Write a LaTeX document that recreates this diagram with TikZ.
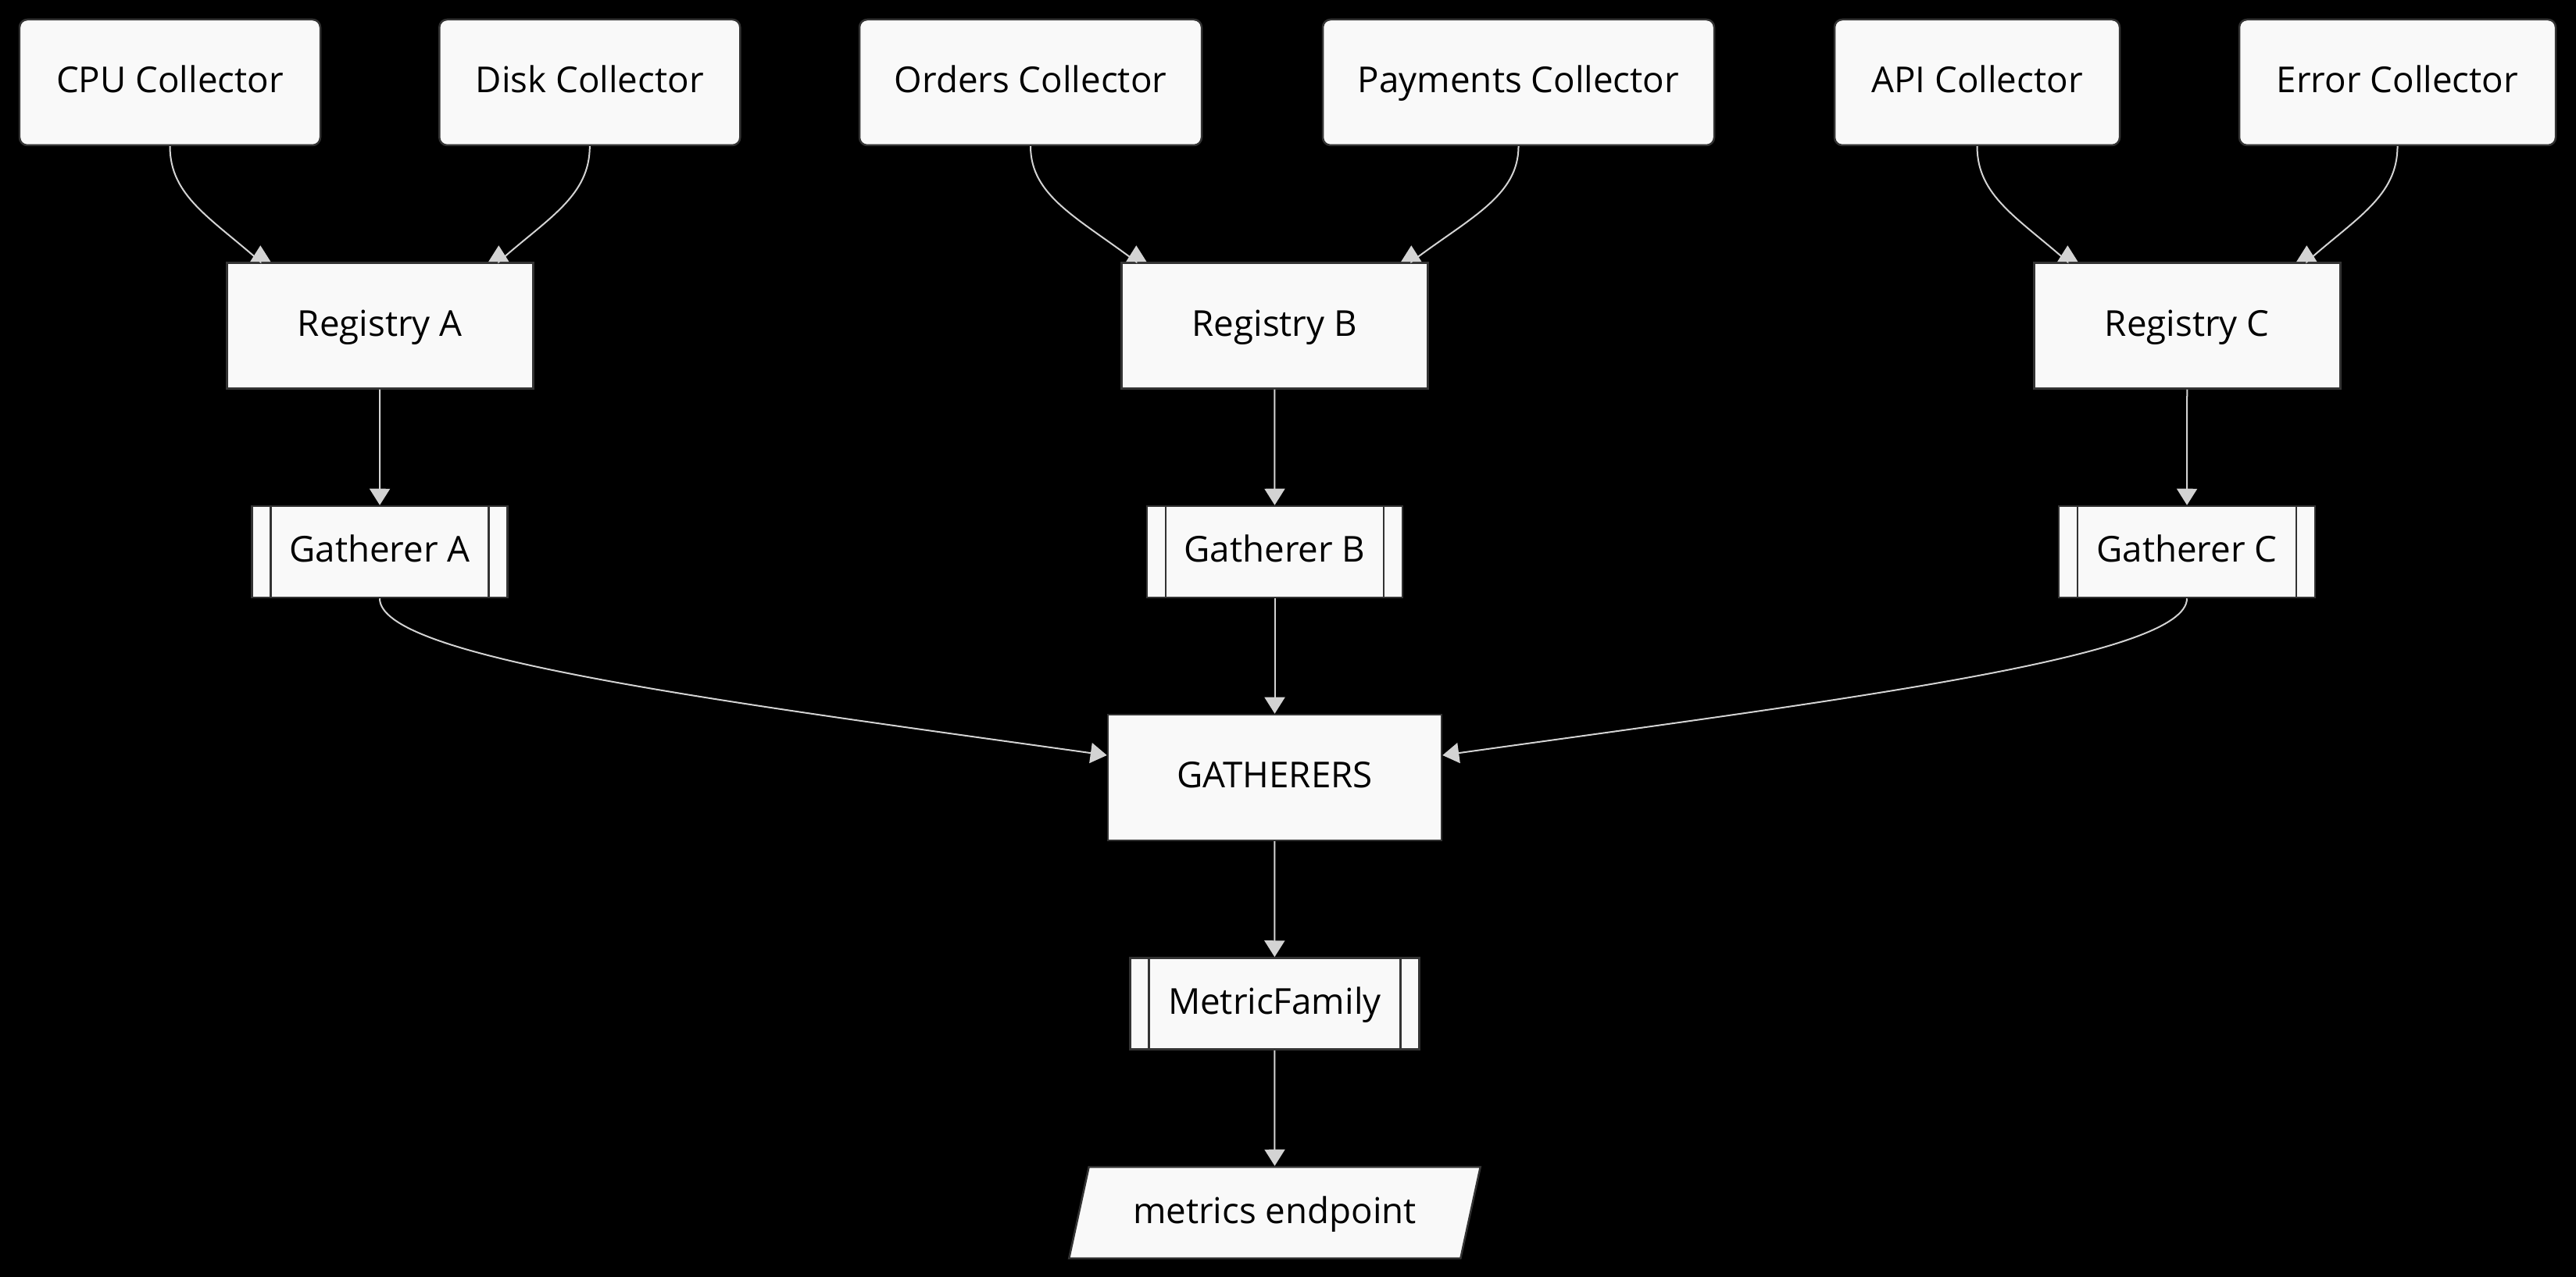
\documentclass[tikz,border=0pt]{standalone}
\usepackage{fontspec}
\setmainfont{Open Sans}
\usetikzlibrary{arrows.meta,shapes.geometric}

\definecolor{nodefill}{HTML}{F9F9F9}
\definecolor{nodeline}{HTML}{333333}
\definecolor{flowline}{HTML}{D3D3D3}

\tikzset{
  block/.style={draw=nodeline, fill=nodefill, line width=0.025cm, inner sep=0pt,
    minimum height=1.61cm, text height=0.33cm, text depth=0.06cm,
    font=\fontsize{13}{15}\selectfont, text=black},
  collector/.style={block, rounded corners=0.1cm},
  registry/.style={block, minimum width=3.92cm},
  subr/.style={block, minimum height=1.17cm, path picture={
      \draw[nodeline, line width=0.025cm]
        ([xshift=0.24cm]path picture bounding box.north west) -- ([xshift=0.24cm]path picture bounding box.south west)
        ([xshift=-0.24cm]path picture bounding box.north east) -- ([xshift=-0.24cm]path picture bounding box.south east);}},
  flow/.style={draw=flowline, line width=0.02cm, -{Triangle[length=0.21cm, width=0.26cm]}},
}

\begin{document}
\begin{tikzpicture}
	\fill[black, use as bounding box] (0, 0) rectangle (32.97, -16.35);

	% collectors
	\node[collector, minimum width=3.85cm] (cpu) at (2.175, -1.055) {CPU Collector};
	\node[collector, minimum width=3.85cm] (disk) at (7.548, -1.055) {Disk Collector};
	\node[collector, minimum width=4.38cm] (orders) at (13.19, -1.055) {Orders Collector};
	\node[collector, minimum width=5.01cm] (payments) at (19.435, -1.055) {Payments Collector};
	\node[collector, minimum width=3.65cm] (api) at (25.305, -1.055) {API Collector};
	\node[collector, minimum width=4.05cm] (error) at (30.685, -1.055) {Error Collector};

	% registries and gatherers
	\node[registry] (rega) at (4.863, -4.17) {Registry A};
	\node[registry] (regb) at (16.313, -4.17) {Registry B};
	\node[registry] (regc) at (27.993, -4.17) {Registry C};
	\node[subr, minimum width=3.27cm] (gatha) at (4.86, -7.065) {Gatherer A};
	\node[subr, minimum width=3.27cm] (gathb) at (16.315, -7.065) {Gatherer B};
	\node[subr, minimum width=3.28cm] (gathc) at (27.99, -7.065) {Gatherer C};

	\node[block, minimum width=4.27cm] (gathers) at (16.315, -9.955) {GATHERERS};
	\node[subr, minimum width=3.70cm] (mfam) at (16.313, -12.85) {MetricFamily};
	\node[block, trapezium, trapezium left angle=63.6, trapezium right angle=116.4,
		trapezium stretches=true, minimum width=5.27cm, minimum height=1.17cm] (ep) at (16.315, -15.525) {metrics endpoint};

	% collectors into registries
	\draw[flow] (cpu.south) .. controls +(0, -0.64) and +(-0.63, 0.56) .. ([xshift=-1.53cm]rega.north) -- ++(0, 0.21);
	\draw[flow] (disk.south) .. controls +(0, -0.64) and +(0.63, 0.56) .. ([xshift=1.52cm]rega.north) -- ++(0, 0.21);
	\draw[flow] (orders.south) .. controls +(0, -0.64) and +(-0.74, 0.56) .. ([xshift=-1.77cm]regb.north) -- ++(0, 0.21);
	\draw[flow] (payments.south) .. controls +(0, -0.64) and +(0.74, 0.56) .. ([xshift=1.75cm]regb.north) -- ++(0, 0.21);
	\draw[flow] (api.south) .. controls +(0, -0.64) and +(-0.63, 0.56) .. ([xshift=-1.53cm]regc.north) -- ++(0, 0.21);
	\draw[flow] (error.south) .. controls +(0, -0.64) and +(0.63, 0.56) .. ([xshift=1.53cm]regc.north) -- ++(0, 0.21);

	\draw[flow] (rega) -- (gatha);
	\draw[flow] (regb) -- (gathb);
	\draw[flow] (regc) -- (gathc);

	\draw[flow] (gatha.south) .. controls +(0, -0.75) and +(-5.18, 0.72) .. ([yshift=0.285cm]gathers.west);
	\draw[flow] (gathb) -- (gathers);
	\draw[flow] (gathc.south) .. controls +(0, -0.75) and +(5.18, 0.72) .. ([yshift=0.285cm]gathers.east);

	\draw[flow] (gathers) -- (mfam);
	\draw[flow] (mfam) -- (ep);
\end{tikzpicture}
\end{document}
